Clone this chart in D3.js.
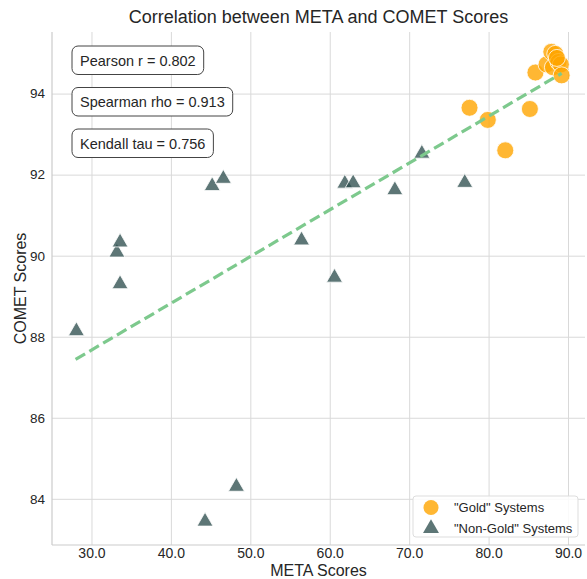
<!DOCTYPE html>
<html>
<head>
<meta charset="utf-8">
<script src="https://cdn.jsdelivr.net/npm/d3@7"></script>
<style>
  body { margin: 0; background: #fff; }
  text { font-family: "Liberation Sans", Arial, sans-serif; fill: #262626; }
</style>
</head>
<body>
<div id="chart"></div>
<script>
// gold systems (META, COMET)
var goldMeta  = [77.6, 79.9, 82.1, 85.2, 85.9, 87.3, 87.9, 88.4, 88.1, 88.8, 89.1, 88.6, 89.2];
var goldComet = [93.65, 93.35, 92.6, 93.62, 94.52, 94.72, 95.03, 94.98, 94.65, 94.78, 94.72, 94.88, 94.45];

// non-gold systems
var otherMeta  = [28.1, 33.2, 33.6, 33.6, 45.2, 46.6, 56.45, 60.6, 61.9, 62.95, 68.2, 71.6, 77.0, 48.25, 44.3];
var otherComet = [88.14, 90.08, 90.33, 89.3, 91.72, 91.9, 90.38, 89.46, 91.78, 91.79, 91.62, 92.52, 91.8, 84.3, 83.44];

// fitted line end points
var fitMeta  = [28.0, 89.2];
var fitComet = [87.44, 94.5];

var statLabels = ["Pearson r = 0.802", "Spearman rho = 0.913", "Kendall tau = 0.756"];
var xTicks = [30, 40, 50, 60, 70, 80, 90];
var yTicks = [84, 86, 88, 90, 92, 94];
var legendLabels = ['"Gold" Systems', '"Non-Gold" Systems'];

function draw() {
    var width = 587, height = 579;
    var pLeft = 52, pRight = 585, pTop = 32, pBottom = 545;

    var svg = d3.select('#chart').append('svg')
        .attr('width', width)
        .attr('height', height);

    var x = d3.scaleLinear().domain([25.03, 92.14]).range([pLeft, pRight]);
    var y = d3.scaleLinear().domain([82.86, 95.52]).range([pBottom, pTop]);

    // grid
    svg.append('g')
        .attr('transform', 'translate(0,' + pBottom + ')')
        .call(d3.axisBottom(x).tickValues(xTicks).tickSize(-(pBottom - pTop)).tickFormat(''))
        .call(function(g) {
            g.select('.domain').remove();
            g.selectAll('line').attr('stroke', '#d9d9d9').attr('stroke-width', 1);
        });
    svg.append('g')
        .attr('transform', 'translate(' + pLeft + ',0)')
        .call(d3.axisLeft(y).tickValues(yTicks).tickSize(-(pRight - pLeft)).tickFormat(''))
        .call(function(g) {
            g.select('.domain').remove();
            g.selectAll('line').attr('stroke', '#d9d9d9').attr('stroke-width', 1);
        });

    // spines
    svg.append('line').attr('x1', pLeft).attr('x2', pRight).attr('y1', pBottom).attr('y2', pBottom)
        .attr('stroke', '#cccccc').attr('stroke-width', 1.2);
    svg.append('line').attr('x1', pLeft).attr('x2', pLeft).attr('y1', pTop).attr('y2', pBottom)
        .attr('stroke', '#cccccc').attr('stroke-width', 1.2);

    // tick labels
    var xAxis = svg.append('g')
        .attr('transform', 'translate(0,' + pBottom + ')')
        .call(d3.axisBottom(x).tickValues(xTicks).tickSize(0).tickPadding(3).tickFormat(d3.format('.1f')));
    xAxis.select('.domain').remove();
    xAxis.selectAll('text').style('font-size', '14px').style('fill', '#262626')
        .style('font-family', '"Liberation Sans", Arial, sans-serif');

    var yAxis = svg.append('g')
        .attr('transform', 'translate(' + pLeft + ',0)')
        .call(d3.axisLeft(y).tickValues(yTicks).tickSize(0).tickPadding(7));
    yAxis.select('.domain').remove();
    yAxis.selectAll('text').style('font-size', '13.5px').style('fill', '#262626')
        .style('font-family', '"Liberation Sans", Arial, sans-serif');

    // points
    var gold = goldMeta.map(function(d, i) { return { m: d, c: goldComet[i] }; });
    var other = otherMeta.map(function(d, i) { return { m: d, c: otherComet[i] }; });

    svg.append('g').selectAll('circle')
        .data(gold)
        .enter()
        .append('circle')
        .attr('cx', function(d) { return x(d.m); })
        .attr('cy', function(d) { return y(d.c); })
        .attr('r', 8.5)
        .attr('fill', 'rgba(255,165,0,0.8)')
        .attr('stroke', '#fff')
        .attr('stroke-width', 0.8);

    var tri = d3.symbol().type(d3.symbolTriangle).size(110);
    svg.append('g').selectAll('path')
        .data(other)
        .enter()
        .append('path')
        .attr('d', tri)
        .attr('transform', function(d) { return 'translate(' + x(d.m) + ',' + y(d.c) + ')'; })
        .attr('fill', 'rgba(47,79,79,0.78)')
        .attr('stroke', '#fff')
        .attr('stroke-width', 0.8);

    // regression line
    svg.append('line')
        .attr('x1', x(fitMeta[0])).attr('y1', y(fitComet[0]))
        .attr('x2', x(fitMeta[1])).attr('y2', y(fitComet[1]))
        .attr('stroke', '#7dc98d')
        .attr('stroke-width', 3.2)
        .attr('stroke-dasharray', '11,5');

    // stat boxes
    var boxes = svg.append('g').selectAll('g')
        .data(statLabels)
        .enter()
        .append('g')
        .attr('transform', function(d, i) { return 'translate(72,' + (46 + i * 41.5) + ')'; });
    boxes.append('text')
        .attr('x', 8)
        .attr('y', 14.5)
        .attr('dy', '0.35em')
        .style('font-size', '14.5px')
        .text(function(d) { return d; });
    boxes.each(function() {
        var g = d3.select(this);
        var w = g.select('text').node().getComputedTextLength();
        g.insert('rect', 'text')
            .attr('width', w + 16)
            .attr('height', 28.5)
            .attr('rx', 6)
            .attr('fill', '#fff')
            .attr('stroke', '#444')
            .attr('stroke-width', 1);
    });

    // legend
    var legend = svg.append('g').attr('transform', 'translate(413,496)');
    legend.append('rect')
        .attr('width', 165)
        .attr('height', 41)
        .attr('rx', 3)
        .attr('fill', 'rgba(255,255,255,0.85)')
        .attr('stroke', '#dddddd');
    legend.append('circle')
        .attr('cx', 18).attr('cy', 11.5).attr('r', 7.5)
        .attr('fill', 'rgba(255,165,0,0.8)');
    legend.append('path')
        .attr('d', tri)
        .attr('transform', 'translate(18,32.5)')
        .attr('fill', 'rgba(47,79,79,0.78)');
    legend.selectAll('.lab')
        .data(legendLabels)
        .enter()
        .append('text')
        .attr('x', 41)
        .attr('y', function(d, i) { return 11.5 + i * 20.5; })
        .attr('dy', '0.35em')
        .style('font-size', '13px')
        .text(function(d) { return d; });

    // titles
    svg.append('text')
        .attr('x', (pLeft + pRight) / 2)
        .attr('y', 23)
        .attr('text-anchor', 'middle')
        .style('font-size', '18px')
        .text('Correlation between META and COMET Scores');
    svg.append('text')
        .attr('x', (pLeft + pRight) / 2)
        .attr('y', 576)
        .attr('text-anchor', 'middle')
        .style('font-size', '16px')
        .text('META Scores');
    svg.append('text')
        .attr('transform', 'translate(26,' + ((pTop + pBottom) / 2) + ') rotate(-90)')
        .attr('text-anchor', 'middle')
        .style('font-size', '16px')
        .text('COMET Scores');
}

draw();
</script>
</body>
</html>
